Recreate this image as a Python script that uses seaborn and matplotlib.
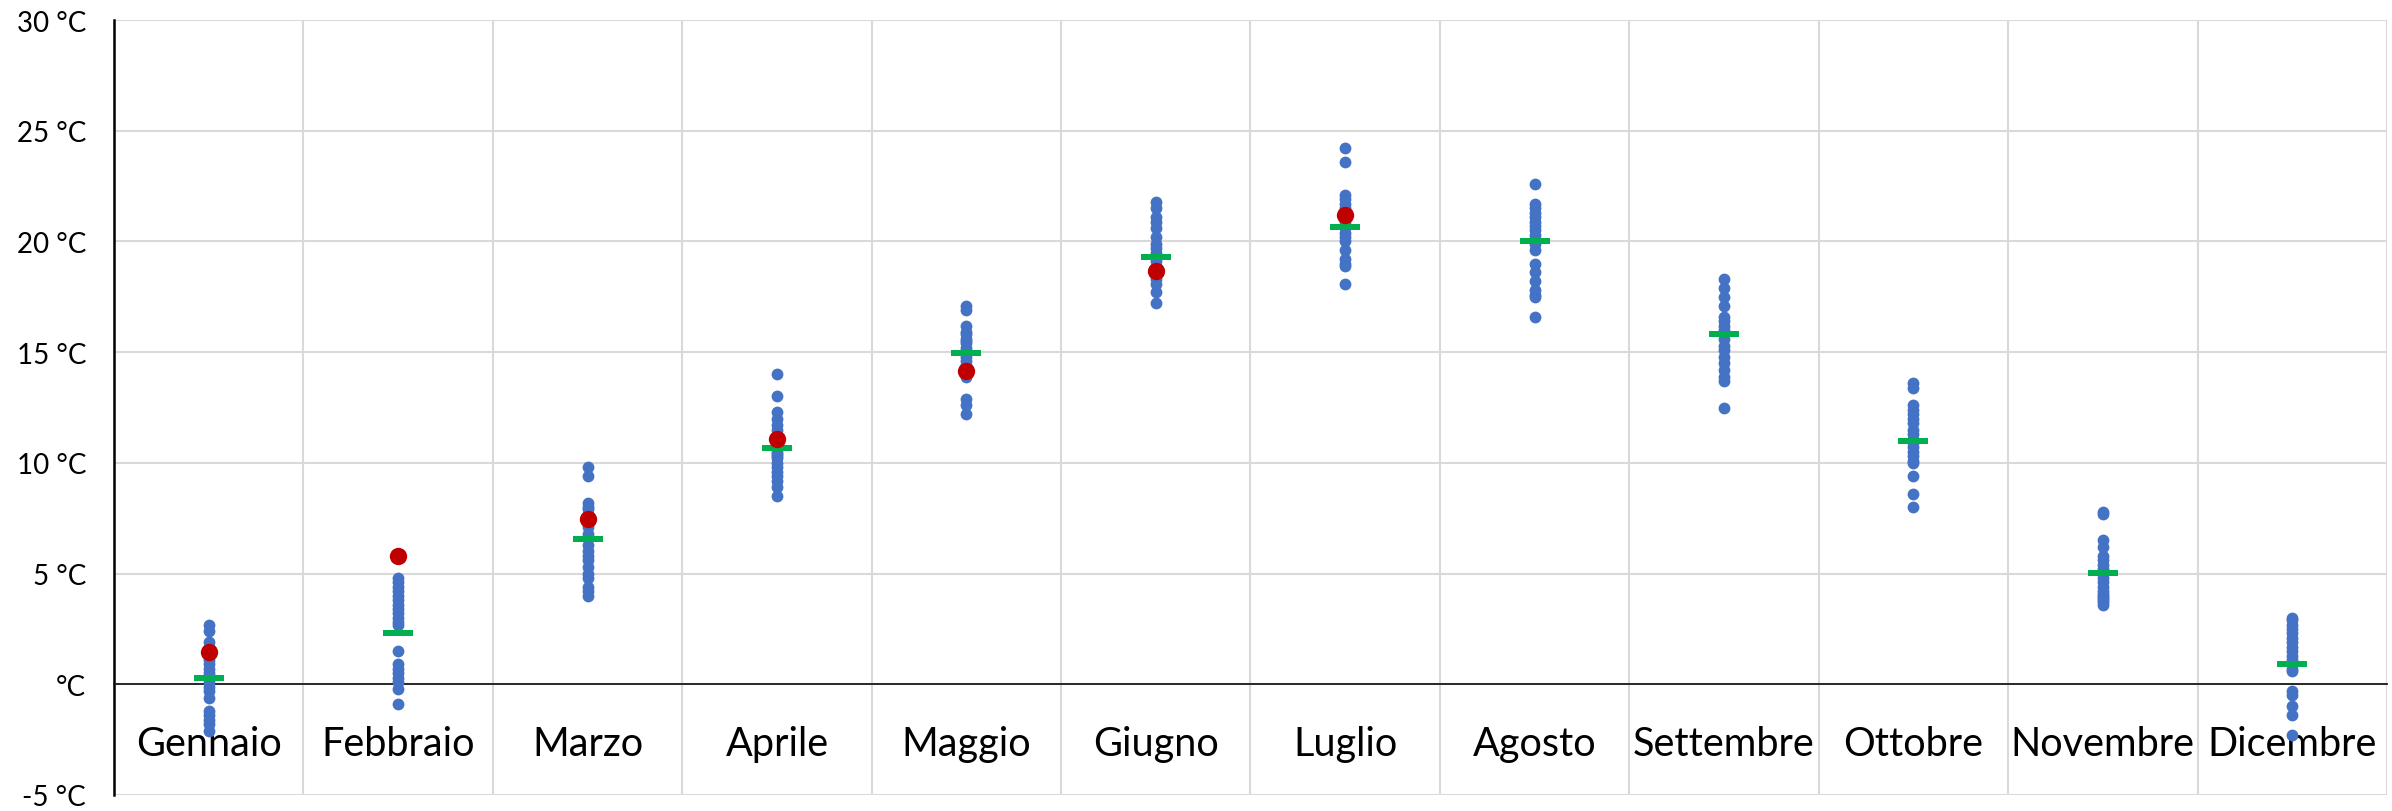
import matplotlib
matplotlib.use("Agg")
import matplotlib.pyplot as plt
import seaborn as sns
import pandas as pd

# ---- data ----
mesi = ["Gennaio", "Febbraio", "Marzo", "Aprile", "Maggio", "Giugno",
        "Luglio", "Agosto", "Settembre", "Ottobre", "Novembre", "Dicembre"]

gennaio = [2.7, 2.4, 1.9, 1.7, 1.5, 1.3, 1.1, 0.9, 0.7, 0.5, 0.3, 0.1,
           -0.1, -0.3, -0.6, -1.2, -1.4, -1.6, -1.8, -2.1]
febbraio = [4.8, 4.6, 4.4, 4.2, 4.0, 3.8, 3.6, 3.4, 3.2, 3.0, 2.8, 2.7,
            1.5, 0.9, 0.7, 0.5, 0.3, 0.1, -0.2, -0.9]
marzo = [9.8, 9.4, 8.2, 8.0, 7.9, 7.7, 7.4, 7.1, 6.8, 6.6, 6.3, 6.0,
         5.8, 5.6, 5.3, 5.0, 4.8, 4.4, 4.2, 4.0]
aprile = [14.0, 13.0, 12.3, 12.0, 11.7, 11.5, 11.2, 10.9, 10.7, 10.5,
          10.4, 10.3, 10.2, 10.0, 9.8, 9.6, 9.4, 9.2, 8.9, 8.5]
maggio = [17.1, 16.9, 16.2, 15.9, 15.8, 15.6, 15.5, 15.4, 15.2, 15.0,
          14.8, 14.6, 14.4, 14.2, 14.0, 13.9, 12.9, 12.6, 12.2]
giugno = [21.8, 21.5, 21.1, 20.9, 20.6, 20.2, 19.9, 19.7, 19.5, 19.3,
          19.1, 18.9, 18.7, 18.5, 18.3, 18.1, 17.7, 17.2]
luglio = [24.2, 23.6, 22.1, 21.9, 21.7, 21.5, 21.3, 21.1, 20.9, 20.6,
          20.4, 20.2, 20.0, 19.6, 19.2, 19.0, 18.9, 18.1]
agosto = [22.6, 21.7, 21.5, 21.3, 21.1, 20.9, 20.7, 20.5, 20.3, 20.1,
          19.9, 19.6, 19.0, 18.6, 18.2, 17.8, 17.6, 17.5, 16.6]
settembre = [18.3, 17.9, 17.5, 17.1, 16.6, 16.4, 16.2, 16.0, 15.8, 15.6,
             15.3, 15.1, 14.8, 14.5, 14.2, 13.9, 13.7, 12.5]
ottobre = [13.6, 13.4, 12.6, 12.4, 12.2, 12.0, 11.8, 11.5, 11.3, 11.1,
           10.9, 10.7, 10.5, 10.3, 10.1, 10.0, 9.4, 8.6, 8.0]
novembre = [7.8, 7.7, 6.5, 6.2, 5.8, 5.6, 5.4, 5.2, 5.0, 4.8, 4.6, 4.4,
            4.2, 4.1, 4.0, 3.9, 3.8, 3.7, 3.6]
dicembre = [3.0, 2.9, 2.7, 2.5, 2.3, 2.1, 1.9, 1.7, 1.5, 1.3, 1.1, 0.9,
            0.7, 0.6, -0.3, -0.5, -1.0, -1.4, -2.3]

media = [0.3, 2.3, 6.55, 10.67, 14.95, 19.3, 20.65, 20.03, 15.8, 11.0, 5.02, 0.93]

mesi_anno_corrente = ["Gennaio", "Febbraio", "Marzo", "Aprile", "Maggio", "Giugno", "Luglio"]
anno_corrente = [1.45, 5.8, 7.45, 11.1, 14.15, 18.65, 21.2]

y_ticks = [-5, 0, 5, 10, 15, 20, 25, 30]
y_labels = ["-5 °C", "°C", "5 °C", "10 °C", "15 °C", "20 °C", "25 °C", "30 °C"]

# ---- frames ----
serie = [gennaio, febbraio, marzo, aprile, maggio, giugno,
         luglio, agosto, settembre, ottobre, novembre, dicembre]
df = pd.DataFrame({
    "mese": [m for m, vals in zip(mesi, serie) for _ in vals],
    "t": [v for vals in serie for v in vals],
})
df_media = pd.DataFrame({"mese": mesi, "t": media})
df_corr = pd.DataFrame({"mese": mesi_anno_corrente, "t": anno_corrente})

# ---- style ----
sns.set_theme(style="white")
plt.rcParams["font.family"] = ["Lato", "DejaVu Sans"]

W, H = 2392, 812
fig = plt.figure(figsize=(W / 100, H / 100), dpi=100)
ax = fig.add_axes([114 / W, 1 - 796 / H, (2387 - 114) / W, (796 - 21) / H])

sns.stripplot(data=df, x="mese", y="t", order=mesi, jitter=False,
              color="#4472C4", size=8.5, linewidth=0, ax=ax, zorder=3)
bar = [(-2.5, -0.5), (2.5, -0.5), (2.5, 0.5), (-2.5, 0.5), (-2.5, -0.5)]
sns.stripplot(data=df_media, x="mese", y="t", order=mesi, jitter=False,
              color="#00B050", marker=bar, size=21.6, linewidth=0, ax=ax, zorder=4)
sns.stripplot(data=df_corr, x="mese", y="t", order=mesi, jitter=False,
              color="#C00000", size=12.5, linewidth=0, ax=ax, zorder=5)

ax.set_xlim(-0.5, 11.5)
ax.set_ylim(-5, 30)
ax.set_yticks(y_ticks)
ax.set_yticklabels(y_labels)
ax.set_xticks(range(len(mesi)))
ax.set_xticklabels(mesi)
ax.set_xticks([i + 0.5 for i in range(-1, len(mesi))], minor=True)

ax.grid(False)
ax.yaxis.grid(True, which="major", color="#d9d9d9", linewidth=1.5)
ax.xaxis.grid(True, which="minor", color="#d9d9d9", linewidth=1.5)
ax.set_axisbelow(True)
ax.tick_params(axis="x", which="both", length=0, pad=29, labelsize=28.5, labelcolor="#000000")
ax.tick_params(axis="y", which="both", length=0, pad=20, labelsize=20, labelcolor="#000000")

ax.spines["bottom"].set_position(("data", 0))
ax.spines["bottom"].set_color("#1a1a1a")
ax.spines["bottom"].set_linewidth(1.3)
ax.spines["left"].set_color("#000000")
ax.spines["left"].set_linewidth(1.8)
ax.spines["top"].set_visible(False)
ax.spines["right"].set_visible(False)
ax.set_xlabel("")
ax.set_ylabel("")

fig.savefig("out.png", dpi=100)
